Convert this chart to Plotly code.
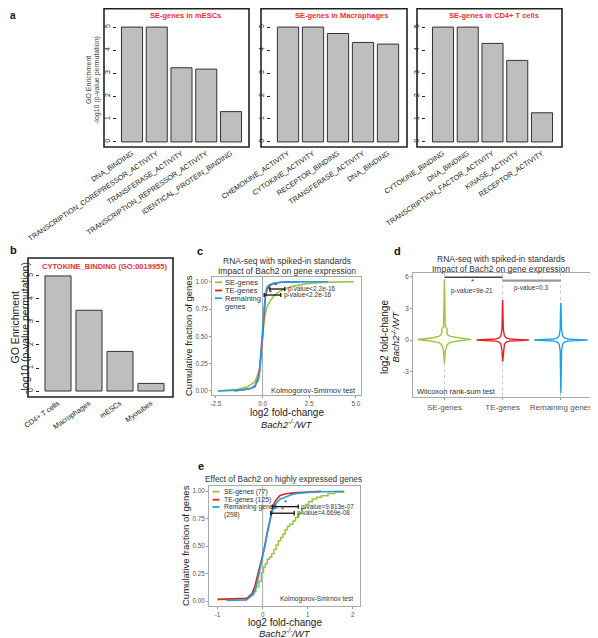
import plotly.graph_objects as go

# The page body has an 8 px margin, so the figure origin sits at page (8, 8).
OFF = 8
W, H = 598, 638
FONT = "Liberation Sans, Arial, sans-serif"
RED_T = "#e6303a"
GREEN = "#9cc43e"
RED = "#e5202a"
BLUE = "#1ea0e6"

def X(px):
    return (px - OFF) / W

def Y(py):
    return 1 - (py - OFF) / H

# ---------------- data ----------------
a1_terms = ["DNA_BINDING", "TRANSCRIPTION_COREPRESSOR_ACTIVITY", "TRANSFERASE_ACTIVITY",
            "TRANSCRIPTION_REPRESSOR_ACTIVITY", "IDENTICAL_PROTEIN_BINDING"]
a1_vals = [5.0, 5.0, 3.23, 3.17, 1.32]
a2_terms = ["CHEMOKINE_ACTIVITY", "CYTOKINE_ACTIVITY", "RECEPTOR_BINDING",
            "TRANSFERASE_ACTIVITY", "DNA_BINDING"]
a2_vals = [5.0, 5.0, 4.72, 4.33, 4.26]
a3_terms = ["CYTOKINE_BINDING", "DNA_BINDING", "TRANSCRIPTION_FACTOR_ACTIVITY",
            "KINASE_ACTIVITY", "RECEPTOR_ACTIVITY"]
a3_vals = [5.0, 5.0, 4.29, 3.55, 1.27]
a_titles = ["SE-genes in mESCs", "SE-genes in Macrophages", "SE-genes in CD4+ T cells"]

b_cells = ["CD4+ T cells", "Macrophages", "mESCs", "Myotubes"]
b_vals = [5.0, 3.51, 1.72, 0.33]

# panel c: cumulative distributions
c_se_x = [-2.4, -1.8, -1.3, -0.77, -0.41, -0.23, -0.15, -0.09, -0.04, 0.0, 0.05, 0.09, 0.21, 0.39, 0.66, 1.0, 1.55, 2.27, 3.17, 4.0, 4.9]
c_se_y = [0.0, 0.005, 0.015, 0.04, 0.085, 0.16, 0.22, 0.31, 0.41, 0.5, 0.59, 0.65, 0.76, 0.82, 0.88, 0.92, 0.955, 0.98, 0.994, 0.998, 1.0]
c_te_x = [-1.5, -1.0, -0.6, -0.41, -0.23, -0.15, -0.09, -0.04, 0.0, 0.05, 0.1, 0.16, 0.25, 0.4, 0.6, 1.0, 1.6, 2.0]
c_te_y = [0.0, 0.01, 0.025, 0.04, 0.12, 0.2, 0.3, 0.4, 0.5, 0.63, 0.76, 0.87, 0.93, 0.965, 0.985, 0.995, 0.998, 1.0]
c_rem_x = [-2.4, -1.5, -1.0, -0.6, -0.4, -0.23, -0.15, -0.09, -0.04, 0.0, 0.04, 0.09, 0.14, 0.21, 0.3, 0.48, 0.7, 1.0, 1.5, 2.3, 3.5]
c_rem_y = [0.0, 0.003, 0.01, 0.025, 0.05, 0.1, 0.18, 0.34, 0.43, 0.51, 0.64, 0.77, 0.87, 0.94, 0.965, 0.98, 0.988, 0.995, 0.998, 1.0, 1.0]

# panel d: violin density profiles (y level, half width)
d_groups = ["SE-genes", "TE-genes", "Remaining genes"]
d_se_y = [-2.2, -1.5, -0.95, -0.47, -0.25, -0.16, -0.05, 0.02, 0.06, 0.12, 0.22, 0.35, 0.47, 0.6, 0.78, 0.95, 1.1, 1.26, 1.6, 2.5, 3.5, 4.5, 5.7]
d_se_w = [0.0, 0.01, 0.017, 0.045, 0.09, 0.14, 0.3, 0.44, 0.46, 0.35, 0.2, 0.1, 0.06, 0.045, 0.04, 0.05, 0.035, 0.017, 0.012, 0.008, 0.006, 0.004, 0.0]
d_te_y = [-2.05, -1.0, -0.4, -0.2, -0.1, -0.04, 0.0, 0.04, 0.1, 0.2, 0.4, 1.0, 2.0, 3.0, 3.8]
d_te_w = [0.0, 0.012, 0.03, 0.06, 0.12, 0.3, 0.45, 0.3, 0.12, 0.06, 0.03, 0.012, 0.008, 0.005, 0.0]
d_rem_y = [-5.05, -4.0, -3.0, -2.0, -1.0, -0.4, -0.2, -0.1, -0.04, 0.0, 0.04, 0.1, 0.2, 0.4, 1.0, 2.0, 3.0, 3.5]
d_rem_w = [0.0, 0.005, 0.007, 0.009, 0.012, 0.03, 0.06, 0.12, 0.3, 0.46, 0.3, 0.12, 0.06, 0.03, 0.012, 0.008, 0.005, 0.0]
d_q1 = [-0.1, -0.07, -0.08]
d_med = [0.1, 0.0, 0.0]
d_q3 = [0.38, 0.08, 0.1]
d_lo = [-0.3, -0.15, -0.2]
d_hi = [0.8, 0.15, 0.25]

# panel e: cumulative distributions of highly expressed genes
e_se_x = [-1.0, -0.36, -0.3, -0.22, -0.15, -0.08, -0.03, 0.02, 0.06, 0.1, 0.15, 0.2, 0.25, 0.3, 0.35, 0.4, 0.45, 0.5, 0.55, 0.6, 0.67, 0.73, 0.8, 0.87, 0.95, 1.02, 1.1, 1.2, 1.3, 1.45, 1.6, 1.8]
e_se_y = [0.015, 0.026, 0.05, 0.09, 0.13, 0.18, 0.26, 0.31, 0.34, 0.38, 0.40, 0.43, 0.47, 0.51, 0.55, 0.58, 0.61, 0.65, 0.68, 0.70, 0.73, 0.76, 0.80, 0.84, 0.88, 0.905, 0.93, 0.945, 0.96, 0.98, 0.99, 1.0]
e_te_x = [-1.0, -0.36, -0.3, -0.23, -0.17, -0.1, -0.05, 0.0, 0.05, 0.1, 0.15, 0.19, 0.23, 0.28, 0.33, 0.38, 0.45, 0.55, 0.7, 0.9, 1.1, 1.3]
e_te_y = [0.015, 0.025, 0.04, 0.07, 0.14, 0.25, 0.33, 0.42, 0.5, 0.62, 0.72, 0.80, 0.86, 0.91, 0.94, 0.96, 0.97, 0.98, 0.985, 0.99, 0.995, 1.0]
e_rem_x = [-0.8, -0.36, -0.3, -0.25, -0.19, -0.12, -0.08, -0.03, 0.03, 0.08, 0.13, 0.18, 0.25, 0.32, 0.4, 0.51, 0.65, 0.77, 1.0, 1.33, 1.8]
e_rem_y = [0.005, 0.01, 0.03, 0.05, 0.07, 0.17, 0.25, 0.36, 0.5, 0.6, 0.69, 0.77, 0.86, 0.9, 0.93, 0.95, 0.97, 0.98, 0.99, 0.995, 1.0]

fig = go.Figure()
shapes = []
ann = []

def text(px, py, s, size, color="#222", bold=False, xanchor="center", yanchor="middle", angle=0, italic=False):
    if bold:
        s = "<b>" + s + "</b>"
    if italic:
        s = "<i>" + s + "</i>"
    ann.append(dict(x=X(px), y=Y(py), xref="paper", yref="paper", text=s, showarrow=False,
                    xanchor=xanchor, yanchor=yanchor, textangle=angle,
                    font=dict(family=FONT, size=size, color=color)))

def dtext(ax, x, y, s, size, color="#333", xanchor="center", yanchor="middle"):
    ann.append(dict(x=x, y=y, xref="x%d" % ax, yref="y%d" % ax, text=s, showarrow=False,
                    xanchor=xanchor, yanchor=yanchor,
                    font=dict(family=FONT, size=size, color=color)))

def rect(px0, py0, px1, py1, color="#222", width=1.6):
    shapes.append(dict(type="rect", xref="paper", yref="paper", x0=X(px0), x1=X(px1),
                       y0=Y(py1), y1=Y(py0), line=dict(color=color, width=width)))

def seg(ax, x0, y0, x1, y1, color="#111", width=1.3, dash="solid", layer="above"):
    shapes.append(dict(type="line", xref="x%d" % ax, yref="y%d" % ax, x0=x0, y0=y0, x1=x1, y1=y1,
                       line=dict(color=color, width=width, dash=dash), layer=layer))

def pline(px0, py0, px1, py1, color, width=1.5):
    shapes.append(dict(type="line", xref="paper", yref="paper", x0=X(px0), y0=Y(py0),
                       x1=X(px1), y1=Y(py1), line=dict(color=color, width=width)))

layout_axes = {}

def r_axes(i, terms, px_axis, px_right, c0, sp, py_top, py_bot, yr, angle=-34, lab_size=7.2):
    n = len(terms)
    xr = [(px_axis - c0) / sp, (n - 1) + (px_right - (c0 + sp * (n - 1))) / sp]
    layout_axes["xaxis%d" % i] = dict(domain=[X(px_axis), X(px_right)], anchor="y%d" % i, range=xr,
                                      tickvals=list(range(n)), ticktext=terms, tickangle=angle,
                                      ticks="", showline=False, showgrid=False, zeroline=False,
                                      automargin=False,
                                      tickfont=dict(family=FONT, size=lab_size, color="#222"))
    layout_axes["yaxis%d" % i] = dict(domain=[Y(py_bot), Y(py_top)], anchor="x%d" % i, range=yr,
                                      tickvals=[0, 1, 2, 3, 4, 5], tickangle=-90, ticks="outside",
                                      ticklen=3, tickcolor="#222", tickwidth=1, showline=False,
                                      showgrid=False, zeroline=False, automargin=False,
                                      tickfont=dict(family=FONT, size=7, color="#222"))

# ---------------- panel a ----------------
for i, (terms, vals, pax, prt, c0, sp, tpx) in enumerate([
        (a1_terms, a1_vals, 117, 249, 132, 24.75, 185),
        (a2_terms, a2_vals, 271, 407, 288, 25.0, 341),
        (a3_terms, a3_vals, 426, 562, 443, 24.75, 494)], start=1):
    fig.add_trace(go.Bar(x=list(range(len(vals))), y=vals, width=0.85,
                         marker=dict(color="#bebebe", line=dict(color="#333", width=1)),
                         xaxis="x%d" % i, yaxis="y%d" % i, showlegend=False, hoverinfo="skip"))
    r_axes(i, terms, pax, prt, c0, sp, 8, 147, [-0.22, 5.83])
    text(tpx, 15.5, a_titles[i - 1], 7.5, RED_T, bold=True)
rect(104, 8.8, 249, 147)
rect(261, 8.8, 407, 147)
rect(417, 8.8, 562, 147)
text(88, 80, "GO Enrichment", 7, "#444", angle=-90)
text(97, 80, "-log10 (p-value permutation)", 7, "#444", angle=-90)
ann.append(dict(x=0, y=1, xref="paper", yref="paper", text="<b>a</b>", showarrow=False,
                xanchor="left", yanchor="top", font=dict(family=FONT, size=10, color="#111")))

# ---------------- panel b ----------------
fig.add_trace(go.Bar(x=list(range(len(b_vals))), y=b_vals, width=0.84,
                     marker=dict(color="#bebebe", line=dict(color="#333", width=1)),
                     xaxis="x4", yaxis="y4", showlegend=False, hoverinfo="skip"))
r_axes(4, b_cells, 40, 173, 58, 31, 258, 397, [-0.26, 5.78], angle=-35, lab_size=7.2)
rect(28, 258, 173, 397)
text(104, 266, "CYTOKINE_BINDING (GO:0019955)", 7.5, RED_T, bold=True)
text(14.5, 328, "GO Enrichment", 10.5, "#222", angle=-90)
text(25, 328, "-log10 (p-value permutation)", 10.5, "#222", angle=-90)
text(8, 250, "b", 11, "#111", bold=True, xanchor="left")

# ---------------- ggplot style axes ----------------
def gg_axes(i, pxl, pxr, pyt, pyb, xr, yr, xt, xtt, yt, ytt, xgrid=False, xsize=6.3):
    layout_axes["xaxis%d" % i] = dict(domain=[X(pxl), X(pxr)], anchor="y%d" % i, range=xr,
                                      tickvals=xt, ticktext=xtt, ticks="outside", ticklen=2,
                                      tickcolor="#999", showline=True, mirror=True,
                                      linecolor="#aaa", linewidth=1, showgrid=xgrid,
                                      gridcolor="#ccc", griddash="dot", gridwidth=1,
                                      zeroline=False, automargin=False, tickangle=0,
                                      tickfont=dict(family=FONT, size=xsize, color="#555"))
    layout_axes["yaxis%d" % i] = dict(domain=[Y(pyb), Y(pyt)], anchor="x%d" % i, range=yr,
                                      tickvals=yt, ticktext=ytt, ticks="outside", ticklen=2,
                                      tickcolor="#999", showline=True, mirror=True,
                                      linecolor="#aaa", linewidth=1, showgrid=False,
                                      zeroline=False, automargin=False,
                                      tickfont=dict(family=FONT, size=6.3, color="#555"))

# ---------------- panel c ----------------
for xs, ys, col in [(c_se_x, c_se_y, GREEN), (c_te_x, c_te_y, RED), (c_rem_x, c_rem_y, BLUE)]:
    fig.add_trace(go.Scatter(x=xs, y=ys, mode="lines", line=dict(color=col, width=1.6),
                             xaxis="x5", yaxis="y5", showlegend=False, hoverinfo="skip"))
gg_axes(5, 212, 361, 277, 395, [-2.71, 5.28], [-0.037, 1.043],
        [-2.5, 0, 2.5, 5.0], ["-2.5", "0.0", "2.5", "5.0"],
        [0, 0.25, 0.5, 0.75, 1.0], ["0.00", "0.25", "0.50", "0.75", "1.00"])
seg(5, 0.39, 0.933, 1.19, 0.933)
seg(5, 0.39, 0.915, 0.39, 0.951)
seg(5, 1.19, 0.915, 1.19, 0.951)
seg(5, 0.09, 0.878, 0.98, 0.878)
seg(5, 0.09, 0.86, 0.09, 0.896)
seg(5, 0.98, 0.86, 0.98, 0.896)
dtext(5, 0.71, 0.965, "*", 8, "#333")
dtext(5, 0.41, 0.905, "*", 8, "#333")
dtext(5, 1.25, 0.933, "p-value<2.2e-16", 6.5, "#333", xanchor="left")
dtext(5, 1.03, 0.878, "p-value<2.2e-16", 6.5, "#333", xanchor="left")
dtext(5, 5.12, 0.0, "Kolmogorov-Smirnov test", 7.5, "#333", xanchor="right", yanchor="middle")
# legend c
for py, col, lab in [(282.3, GREEN, "SE-genes"), (290.5, RED, "TE-genes"), (298.2, BLUE, "Remaining")]:
    pline(215, py, 222, py, col, 1.8)
    text(223, py, lab, 7.5, "#333", xanchor="left")
text(223, 306.2, "genes", 7.5, "#333", xanchor="left")
text(287, 261, "RNA-seq with spiked-in standards", 8.5, "#333")
text(287, 270.5, "Impact of Bach2 on gene expression", 8.5, "#333")
text(287, 412, "log2 fold-change", 10, "#222")
text(287, 423.5, "Bach2<sup>-/-</sup>/WT", 9.5, "#222", italic=True)
text(188, 336, "Cumulative fraction of genes", 9.5, "#222", angle=-90)
text(200, 251, "c", 11, "#111", bold=True)

# ---------------- panel d ----------------
for ci, (ys, ws, col) in enumerate([(d_se_y, d_se_w, GREEN), (d_te_y, d_te_w, RED), (d_rem_y, d_rem_w, BLUE)]):
    vx = [ci + w for w in ws] + [ci - w for w in reversed(ws)]
    vy = list(ys) + list(reversed(ys))
    fig.add_trace(go.Scatter(x=vx, y=vy, mode="lines", fill="toself", fillcolor="white",
                             line=dict(color=col, width=1.4), xaxis="x6", yaxis="y6",
                             showlegend=False, hoverinfo="skip"))
fig.add_trace(go.Box(x=[0, 1, 2], q1=d_q1, median=d_med, q3=d_q3, lowerfence=d_lo,
                     upperfence=d_hi, width=0.15, fillcolor="#dddddd",
                     line=dict(color="#222", width=1.3), xaxis="x6", yaxis="y6",
                     showlegend=False, hoverinfo="skip", boxpoints=False))
gg_axes(6, 413, 590, 273, 397, [-0.54, 2.5], [-5.4, 6.35],
        [0, 1, 2], d_groups, [-3, 0, 3, 6], ["-3", "0", "3", "6"], xgrid=True, xsize=8)
seg(6, 0, 5.95, 1, 5.95, color="#444", width=1.4)
seg(6, 1, 5.62, 2, 5.62, color="#999", width=2.2)
dtext(6, 0.48, 5.5, "*", 8, "#333")
dtext(6, 0.47, 4.65, "p-value=9e-21", 6.5, "#333")
dtext(6, 1.5, 4.9, "p-value=0.3", 6.5, "#333")
dtext(6, -0.51, -4.85, "Wilcoxon rank-sum test", 7.5, "#333", xanchor="left")
text(501, 259, "RNA-seq with spiked-in standards", 8.5, "#333")
text(501, 269, "Impact of Bach2 on gene expression", 8.5, "#333")
text(384, 337, "log2 fold-change", 10, "#222", angle=-90)
text(395.5, 337, "Bach2<sup>-/-</sup>/WT", 9.5, "#222", angle=-90, italic=True)
text(397, 251, "d", 11, "#111", bold=True)

# ---------------- panel e ----------------
shapes.append(dict(type="line", xref="x7", yref="y7 domain", x0=0, x1=0, y0=0, y1=1,
                   line=dict(color="#aaa", width=1), layer="below"))
shapes.append(dict(type="line", xref="x5", yref="y5 domain", x0=0, x1=0, y0=0, y1=1,
                   line=dict(color="#aaa", width=1), layer="below"))
fig.add_trace(go.Scatter(x=e_se_x, y=e_se_y, mode="lines", line=dict(color=GREEN, width=1.5, shape="hv"),
                         xaxis="x7", yaxis="y7", showlegend=False, hoverinfo="skip"))
fig.add_trace(go.Scatter(x=e_te_x, y=e_te_y, mode="lines", line=dict(color=RED, width=1.6),
                         xaxis="x7", yaxis="y7", showlegend=False, hoverinfo="skip"))
fig.add_trace(go.Scatter(x=e_rem_x, y=e_rem_y, mode="lines", line=dict(color=BLUE, width=1.6),
                         xaxis="x7", yaxis="y7", showlegend=False, hoverinfo="skip"))
gg_axes(7, 209, 360, 486, 606, [-1.19, 2.16], [-0.045, 1.048],
        [-1, 0, 1, 2], ["-1", "0", "1", "2"],
        [0, 0.25, 0.5, 0.75, 1.0], ["0.00", "0.25", "0.50", "0.75", "1.00"])
seg(7, 0.215, 0.86, 0.79, 0.86)
seg(7, 0.215, 0.84, 0.215, 0.88)
seg(7, 0.79, 0.84, 0.79, 0.88)
seg(7, 0.18, 0.80, 0.70, 0.80)
seg(7, 0.18, 0.78, 0.18, 0.82)
seg(7, 0.70, 0.78, 0.70, 0.82)
dtext(7, 0.51, 0.895, "*", 8, "#333")
dtext(7, 0.45, 0.835, "*", 8, "#333")
dtext(7, 0.80, 0.86, "p-value=9.813e-07", 6.3, "#333", xanchor="left")
dtext(7, 0.72, 0.80, "p-value=4.669e-08", 6.3, "#333", xanchor="left")
dtext(7, 2.05, 0.02, "Kolmogorov-Smirnov test", 6.5, "#333", xanchor="right")
for py, col, lab in [(491.7, GREEN, "SE-genes (77)"), (499.7, RED, "TE-genes (125)"), (507, BLUE, "Remaining genes")]:
    pline(212.5, py, 219.5, py, col, 1.8)
    text(221.5, py, lab, 6.8, "#333", xanchor="left")
text(221.5, 514.5, "(298)", 6.8, "#333", xanchor="left")
text(283, 478.7, "Effect of Bach2 on highly expressed genes", 8.3, "#333")
text(285, 622, "log2 fold-change", 10, "#222")
text(285, 632.5, "Bach2<sup>-/-</sup>/WT", 9.5, "#222", italic=True)
text(185, 546, "Cumulative fraction of genes", 9.5, "#222", angle=-90)
text(201, 466, "e", 11, "#111", bold=True)

fig.update_layout(width=W, height=H, autosize=False, margin=dict(l=0, r=0, t=0, b=0),
                  paper_bgcolor="white", plot_bgcolor="white", showlegend=False,
                  font=dict(family=FONT), shapes=shapes, annotations=ann, **layout_axes)

fig.write_html("out.html")
